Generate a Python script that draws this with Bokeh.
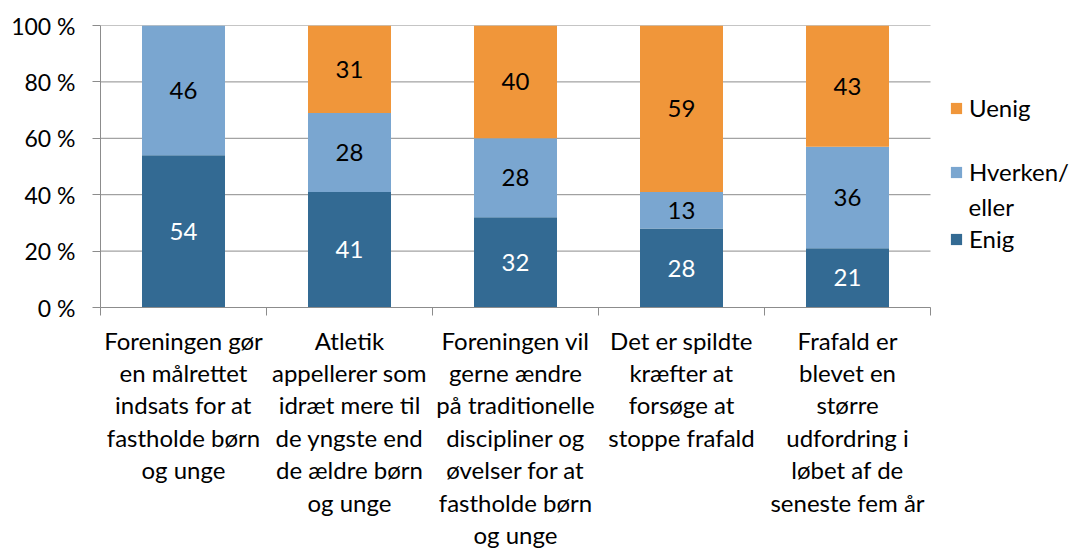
from bokeh.plotting import figure
from bokeh.models import (ColumnDataSource, Range1d, LinearAxis, FixedTicker,
                          Legend, LegendItem, Label)
from bokeh.core.properties import value
from bokeh.embed import file_html
from bokeh.resources import INLINE

categories = [
    "Foreningen gør\nen målrettet\nindsats for at\nfastholde børn\nog unge",
    "Atletik\nappellerer som\nidræt mere til\nde yngste end\nde ældre børn\nog unge",
    "Foreningen vil\ngerne ændre\npå traditionelle\ndiscipliner og\nøvelser for at\nfastholde børn\nog unge",
    "Det er spildte\nkræfter at\nforsøge at\nstoppe frafald",
    "Frafald er\nblevet en\nstørre\nudfordring i\nløbet af de\nseneste fem år",
]
series_names = ["Enig", "Hverken/eller", "Uenig"]
legend_lines = {"Enig": ["Enig"], "Hverken/eller": ["Hverken/", "eller"], "Uenig": ["Uenig"]}
enig = [54, 41, 32, 28, 21]
hverken = [46, 28, 28, 13, 36]
uenig = [0, 31, 40, 59, 43]
y_ticks = [0, 20, 40, 60, 80, 100]
y_tick_labels = ["0 %", "20 %", "40 %", "60 %", "80 %", "100 %"]

colors = ["#336A93", "#7AA6D0", "#F0963A"]
label_colors = ["white", "black", "black"]
FONT = "Lato"
FS = "24px"
TICK_FS = "23px"
GRID = "#8C8C8C"

# layout (pixels)
W, H = 1071, 552
LEFT, TOP, BOTTOM = 100, 25, 241
BARS_W = 830          # width of the bar area inside the frame
FRAME_W = W - LEFT

n = len(categories)
xs = [i + 0.5 for i in range(n)]

p = figure(width=W, height=H, output_backend="svg", toolbar_location=None,
           x_range=Range1d(0, n * FRAME_W / BARS_W), y_range=Range1d(0, 100),
           x_axis_location=None, y_axis_location=None,
           min_border_left=LEFT, min_border_top=TOP, min_border_right=0,
           min_border_bottom=BOTTOM)
p.outline_line_color = None
p.background_fill_color = "white"
p.border_fill_color = "white"
p.xgrid.grid_line_color = None
p.ygrid.grid_line_color = None

# y axis
yax = LinearAxis(ticker=FixedTicker(ticks=y_ticks),
                 major_label_overrides={t: l for t, l in zip(y_ticks, y_tick_labels)})
yax.axis_line_color = GRID
yax.major_tick_line_color = GRID
yax.major_tick_out = 8
yax.major_tick_in = 0
yax.minor_tick_line_color = None
yax.major_label_standoff = 17
yax.major_label_text_font = FONT
yax.major_label_text_font_size = TICK_FS
yax.major_label_text_color = "black"
p.add_layout(yax, "left")

# x axis: labels at centres, tick marks at category boundaries
xax = LinearAxis(ticker=FixedTicker(ticks=xs, minor_ticks=list(range(n + 1))),
                 major_label_overrides={x: c for x, c in zip(xs, categories)},
                 bounds=(0, n))
xax.axis_line_color = GRID
xax.major_tick_line_color = None
xax.major_tick_out = 0
xax.major_tick_in = 0
xax.minor_tick_line_color = GRID
xax.minor_tick_out = 8
xax.minor_tick_in = 0
xax.major_label_standoff = 10
xax.major_label_text_font = FONT
xax.major_label_text_font_size = FS
xax.major_label_text_line_height = 1.12
xax.major_label_text_color = "black"
p.add_layout(xax, "below")

# horizontal gridlines over the bar area only
p.segment(x0=[0] * len(y_ticks), x1=[n] * len(y_ticks), y0=y_ticks, y1=y_ticks,
          line_color=GRID, line_width=1, level="underlay")

data = {"x": xs, "Enig": enig, "Hverken/eller": hverken, "Uenig": uenig}
src = ColumnDataSource(data)
renderers = p.vbar_stack(series_names, x="x", width=0.5, source=src,
                         color=colors, line_color=None)

# data labels
lx, ly, lt, lc = [], [], [], []
for i, x in enumerate(xs):
    base = 0
    for vals, col in zip([enig, hverken, uenig], label_colors):
        v = vals[i]
        if v > 0:
            lx.append(x)
            ly.append(base + v / 2)
            lt.append(str(v))
            lc.append(col)
        base += v
lsrc = ColumnDataSource(dict(x=lx, y=ly, t=lt, c=lc))
p.text(x="x", y="y", text="t", source=lsrc, text_color="c", text_align="center",
       text_baseline="middle", text_font=value(FONT), text_font_size=FS)

# legend: one legend per entry, placed to the right of the bars
LEG_X = BARS_W + 19
leg_y = {"Uenig": 185, "Hverken/eller": 121, "Enig": 54}
for r, name in zip(renderers, series_names):
    lines = legend_lines[name]
    leg = Legend(items=[LegendItem(label=lines[0], renderers=[r])],
                 location=(LEG_X, leg_y[name]), padding=0, margin=0,
                 border_line_color=None, background_fill_alpha=0,
                 glyph_width=14, glyph_height=14, label_standoff=6,
                 label_text_font=FONT, label_text_font_size=FS,
                 label_text_color="black")
    p.add_layout(leg, "center")
    for k, extra in enumerate(lines[1:]):
        p.add_layout(Label(x=LEG_X + 19, y=101, x_units="screen", y_units="screen",
                           text=extra, text_font=FONT, text_font_size=FS,
                           text_color="black", text_baseline="alphabetic"))

open("out.html", "w").write(file_html(p, INLINE))
